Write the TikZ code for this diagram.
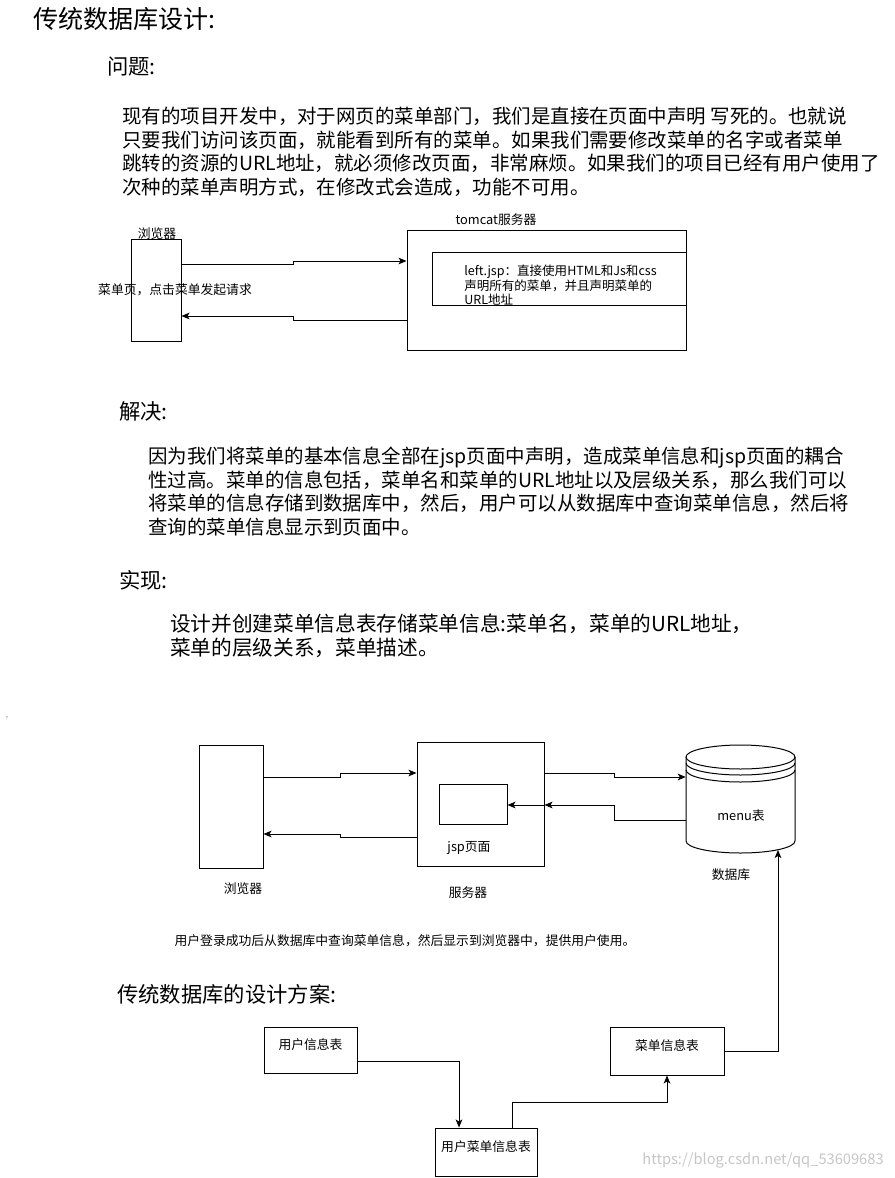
\documentclass[tikz,border=0pt]{standalone}
\usepackage{fontspec}
\setmainfont{Noto Sans CJK SC}
\usetikzlibrary{arrows.meta, fit}

\begin{document}
\begin{tikzpicture}[x=0.75pt, y=-0.75pt,
    box/.style={draw, inner sep=0pt, line width=0.75pt},
    lbl/.style={inner sep=0pt, font=\fontsize{9.6}{11}\selectfont},
    conn/.style={line width=0.75pt, -{Stealth[length=6pt, width=5pt, inset=1.5pt]}},
    para/.style={anchor=north west, inner sep=0pt, align=left}]
    \useasboundingbox (0,0) rectangle (894,1178);

    % headings and text
    \node[para, font=\fontsize{18.8}{22}\selectfont] (title) at (33,7) {传统数据库设计:};
    \node[para, font=\fontsize{16}{19}\selectfont] (probhead) at (107,57) {问题:};
    \node[para, font=\fontsize{14.6}{17.6}\selectfont] (probtext) at (122,107) {现有的项目开发中，对于网页的菜单部门，我们是直接在页面中声明 写死的。也就说\\只要我们访问该页面，就能看到所有的菜单。如果我们需要修改菜单的名字或者菜单\\跳转的资源的URL地址，就必须修改页面，非常麻烦。如果我们的项目已经有用户使用了\\次种的菜单声明方式，在修改式会造成，功能不可用。};
    \node[para, font=\fontsize{16}{19}\selectfont] (solvehead) at (119,401) {解决:};
    \node[para, font=\fontsize{14.6}{17.6}\selectfont] (solvetext) at (148,447) {因为我们将菜单的基本信息全部在jsp页面中声明，造成菜单信息和jsp页面的耦合\\性过高。菜单的信息包括，菜单名和菜单的URL地址以及层级关系，那么我们可以\\将菜单的信息存储到数据库中，然后，用户可以从数据库中查询菜单信息，然后将\\查询的菜单信息显示到页面中。};
    \node[para, font=\fontsize{16}{19}\selectfont] (implhead) at (119,570) {实现:};
    \node[para, font=\fontsize{15.5}{18}\selectfont] (impltext) at (170,614) {设计并创建菜单信息表存储菜单信息:菜单名，菜单的URL地址，\\菜单的层级关系，菜单描述。};
    \node[inner sep=0pt, text=gray, font=\fontsize{6}{7}\selectfont] (mark) at (7,718) {,};

    % old way: browser and tomcat
    \node[box, fit={(131,239) (181,341)}] (brw1) {};
    \node[lbl] (brw1lbl) at (157,234) {浏览器};
    \node[lbl] (menupage) at (175,290) {菜单页，点击菜单发起请求};
    \node[box, fit={(407,230) (686,350)}] (tomcat) {};
    \node[lbl] (tomcatlbl) at (496,220) {tomcat服务器};
    \node[box, fit={(432,252) (686,305)}] (leftjsp) {};
    \node[lbl, anchor=north west, align=left, font=\fontsize{9.4}{10.9}\selectfont] (leftjsptext) at (464,265) {left.jsp：直接使用HTML和Js和css\\声明所有的菜单，并且声明菜单的\\URL地址};
    \draw[conn] (brw1.east |- 0,264) -- (293,264) -- (293,261) -- (tomcat.west |- 0,261);
    \draw[conn] (tomcat.west |- 0,320) -- (293,320) -- (293,316) -- (brw1.east |- 0,316);

    % new way: browser, server, database
    \node[box, fit={(199,745) (263,868)}] (brw2) {};
    \node[lbl] (brw2lbl) at (243,889) {浏览器};
    \node[box, fit={(417,742) (544,866)}] (srv) {};
    \node[box, fit={(439,784) (507,824)}] (jsp) {};
    \node[lbl] (jsplbl) at (469,848) {jsp页面};
    \node[lbl] (srvlbl) at (468,893) {服务器};
    \draw[line width=0.75pt] (686,757) -- (686,841) arc[start angle=180, end angle=0, x radius=54.5, y radius=12] -- (795,757);
    \draw[line width=0.75pt] (740.5,757) ellipse [x radius=54.5, y radius=12];
    \draw[line width=0.75pt] (686,763) arc[start angle=180, end angle=0, x radius=54.5, y radius=12];
    \draw[line width=0.75pt] (686,770) arc[start angle=180, end angle=0, x radius=54.5, y radius=12];
    \node[fit={(686,745) (795,853)}, inner sep=0pt] (db) {};
    \coordinate (dbfoot) at (778,850);
    \node[lbl] (menutbl) at (741,816) {menu表};
    \node[lbl] (dblbl) at (731,875) {数据库};
    \draw[conn] (brw2.east |- 0,777) -- (340,777) -- (340,773) -- (srv.west |- 0,773);
    \draw[conn] (srv.west |- 0,837) -- (340,837) -- (340,834) -- (brw2.east |- 0,834);
    \draw[conn] (srv.east |- 0,773) -- (614,773) -- (614,777) -- (db.west |- 0,777);
    \draw[conn] (db.west |- 0,820) -- (614,820) -- (614,805) -- (srv.east |- 0,805);
    \draw[conn] (srv.east |- 0,805) -- (jsp.east |- 0,805);
    \node[lbl] (caption) at (405,941) {用户登录成功后从数据库中查询菜单信息，然后显示到浏览器中，提供用户使用。};

    % table design
    \node[para, font=\fontsize{16}{19}\selectfont] (planhead) at (117,984) {传统数据库的设计方案:};
    \node[box, lbl, fit={(264,1027) (357,1073)}] (uinfo) {用户信息表};
    \node[box, lbl, fit={(435,1128) (537,1176)}] (umenu) {用户菜单信息表};
    \node[box, lbl, fit={(610,1027) (724,1075)}] (mtab) {菜单信息表};
    \draw[conn] (uinfo.east |- 0,1061) -- (459,1061) -- (umenu.north -| 459,0);
    \draw[conn] (umenu.north -| 512,0) -- (512,1102) -| (mtab.south);
    \draw[conn] (mtab.east) -| (dbfoot);
    \node[inner sep=0pt, text=gray!45, font=\fontsize{11}{13}\selectfont] (mark2) at (763,1160) {https://blog.csdn.net/qq\_53609683};
\end{tikzpicture}
\end{document}
